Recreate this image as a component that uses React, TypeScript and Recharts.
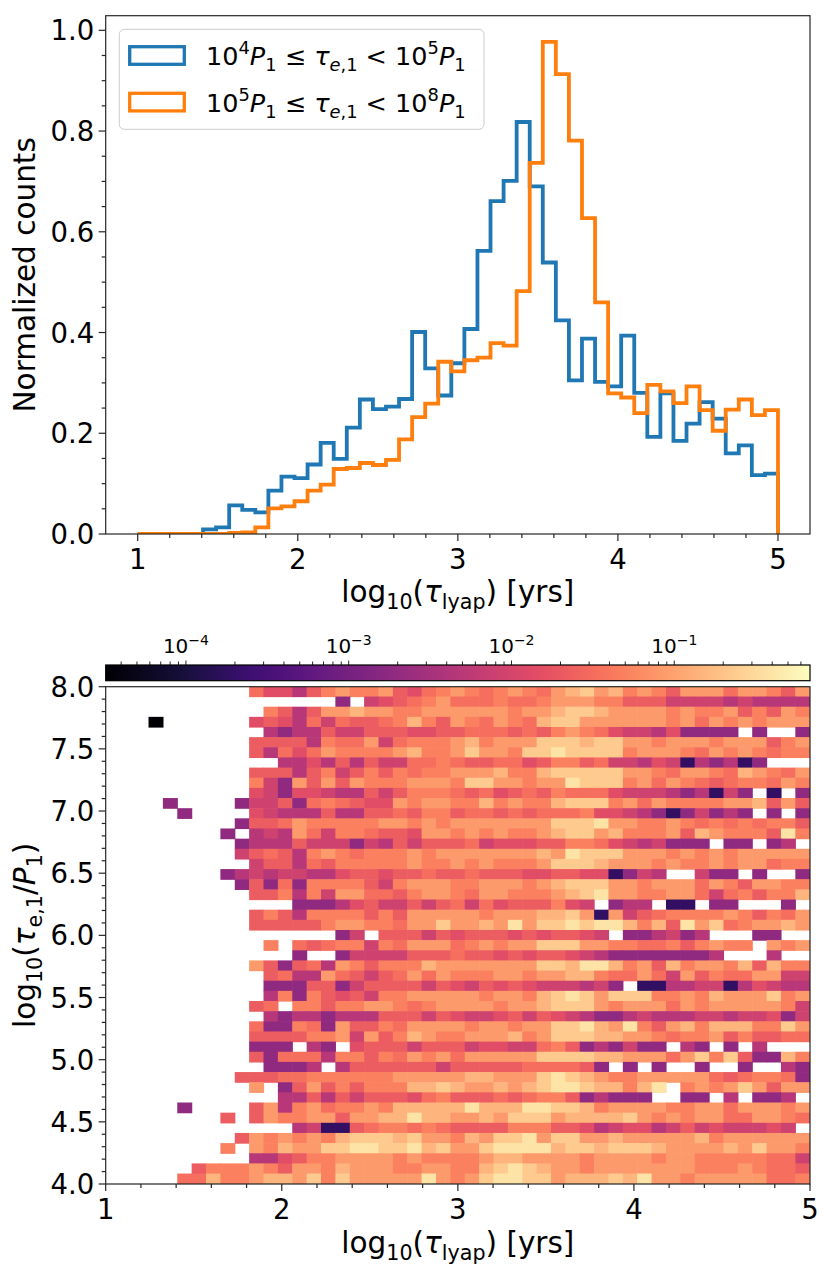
import React from 'react';
import { ComposedChart, Line, XAxis, YAxis, ScatterChart, Scatter } from 'recharts';

const FONT = 'DejaVu Sans';
const INK = '#262626';

// 49 equal bins in log10(tau_lyap) between 1 and 5 (shared by both panels)
const N_BINS = 49;
const binEdges = Array.from({ length: N_BINS + 1 }, (_, i) => 1 + (4 * i) / N_BINS);

// top panel: normalized counts per bin
const lowTauCounts = [
  0, 0, 0, 0, 0, 0.009, 0.013, 0.057, 0.048, 0.043,
  0.086, 0.114, 0.111, 0.138, 0.181, 0.149, 0.211, 0.267, 0.248, 0.253,
  0.268, 0.401, 0.329, 0.275, 0.339, 0.407, 0.562, 0.661, 0.701, 0.818,
  0.69, 0.539, 0.424, 0.305, 0.388, 0.302, 0.293, 0.394, 0.28, 0.193,
  0.279, 0.185, 0.219, 0.262, 0.229, 0.16, 0.176, 0.117, 0.12,
];
const highTauCounts = [
  0, 0, 0, 0, 0, 0, 0, 0.002, 0.003, 0.013,
  0.051, 0.055, 0.065, 0.086, 0.098, 0.129, 0.131, 0.141, 0.137, 0.147,
  0.188, 0.232, 0.259, 0.342, 0.323, 0.345, 0.35, 0.379, 0.374, 0.482,
  0.737, 0.977, 0.913, 0.781, 0.627, 0.46, 0.279, 0.271, 0.24, 0.296,
  0.283, 0.26, 0.293, 0.246, 0.205, 0.247, 0.267, 0.236, 0.246,
];

// bottom panel: one string per row of log10(tau_e,1/P1) bins, top row first,
// one char per tau_lyap bin = colour-bar level, '.' = empty
const heatRows = [
  '..........' + '755368988965789' + '8789879ab9a8986999799869',
  '................' + '2.4567897' + '778778999886664444343333',
  '...........' + '863699a9988999' + '999899abba99998988968698',
  '...0......' + '56537476678a869' + '87987abb9999998979898999',
  '...........' + '32336446665566' + '7776768987544352222.2..2',
  '..........' + '666638779478889' + 'a8999bbbabb9989998999689',
  '..........' + '63757988889a889' + 'b998bbcbbbb8999879898788',
  '............' + '3353636447787' + '667756886744354132312...',
  '..........' + '666368468687889' + '99a88abbbbb99879987a9879',
  '..........' + '842969698889998' + 'bb99899cbbb8979876788798',
  '..........' + '542554336468887' + '67567687775444323142.1.2',
  '....2....2' + '446278765598998' + '8a8988abbb8979888899a696',
  '.....2....' + '543336336676886' + '77676777855432124232.2.2',
  '.........2' + '667988888998989' + '999999bbbc99889878787886',
  '........2.' + '343974887665998' + '989889abb9a88896a98886c8',
  '.........2' + '333644424364666' + '74555668875434222.22.23.',
  '.........4' + '676389878889899' + '99999a9cbbb9998989899999',
  '..........' + '466376888889889' + '898889bbba99989889899788',
  '........23' + '434433566566766' + '76665566551243..422.2..2',
  '.........2' + '627288886489998' + '899989abbb99899979869988',
  '..........' + '668384997768998' + '7998889abc9988997478688a',
  '.............' + '222356446467' + '475666854.233.11.22...2.',
  '..........' + '686388886869999' + '98999aab9194678888986879',
  '..........' + '6666689988799b9' + '9a9c9bbcbcca8a6c9b7899a9',
  '................' + '24.666465' + '6665656654.223423...22..',
  '...........' + '8.767884879997' + '89899bbb998877868988.989',
  '.............' + '2..244446667' + '665656654322222223...3..',
  '..........' + '962673986888a99' + '99999bbacca896a8998a6a88',
  '...........' + '67339764679798' + '8899899aa877974968779944',
  '...........' + '22266246666465' + '46565444342.113344135433',
  '...........' + '38286564889999' + '98998abcb9bbb8898a999b89',
  '..........' + '67.886889987899' + '99899abbb989997989999984',
  '...........' + '32332333666465' + '445646543223433344344524',
  '..........' + '722872966879999' + '899899bbca9c869a8aaa88b9',
  '..........' + '66668894968a988' + '999a89bbbaa9987889686677',
  '..........' + '222.32.56664666' + '45544786232422.32.2.3...',
  '..........' + '627773886879897' + '99999bbbbaa99979b8b622a8',
  '...........' + '2223.366666646' + '6666777762.2.2..2..2..32',
  '.........' + '6667788888899999' + 'aa999bcba988999997678872',
  '..........' + '9.269686888aaba' + '99a9abccbaa8ac.8989b9699',
  '............' + '3363646665786' + '6676788623222..22.3.223.',
  '.....2....' + '6938978898aaaaa' + 'caaaccbba899998899799989',
  '........6.' + '698899699aacaa9' + '9a9bbb9aaaab989899779987',
  '.............' + '341167887876' + '66688866534553464544454.',
  '.........' + '6989898abbbab998' + 'a9bbc9bb99a99999a8999999',
  '........8.' + '98a99bbccbbcab9' + '9bccccabbabbba9999a9b998',
  '..........' + '335688999989888' + '89aa99998999989988888774',
  '......' + '6888986998a99988998' + '8abcba998999999988898776',
  '.....' + '77a889aa9b8b99999c98' + '9bccbb9aaabac99899999778',
];

// position of each level char along the colour bar (0 = left end, 1 = right end)
const levelPos: Record<string, number> = {
  '0': 0.0, '1': 0.18, '2': 0.41, '3': 0.5, '4': 0.56, '5': 0.61, '6': 0.655,
  '7': 0.695, '8': 0.735, '9': 0.79, a: 0.845, b: 0.89, c: 0.945,
};

const topXMajor = [1, 2, 3, 4, 5];
const topYMajor = [0, 0.2, 0.4, 0.6, 0.8, 1.0];
const heatXMajor = [1, 2, 3, 4, 5];
const heatYMajor = [4, 4.5, 5, 5.5, 6, 6.5, 7, 7.5, 8];
const cbMajor = [1e-4, 1e-3, 1e-2, 1e-1];
const cbMajorExp = ['\u22124', '\u22123', '\u22122', '\u22121'];

// colour bar limits (log10)
const CB_LMIN = -4.493;
const CB_LMAX = -0.166;
const CB_MIN = Math.pow(10, CB_LMIN);
const CB_MAX = Math.pow(10, CB_LMAX);

// layout
const W = 830;
const L = 105.7;
const R = 810;
const TOP_T = 15.7;
const TOP_B = 534;
const CB_T = 665;
const CB_B = 680.7;
const HM_T = 686.7;
const HM_B = 1184;
const LOWER_TOP = 600;
const TICK_FS = 27.5;
const LABEL_FS = 29.5;
const CB_FS = 20;

const magmaStops: [number, string][] = [
  [0.0, '#000004'], [0.1, '#140e36'], [0.125, '#1c1044'], [0.2, '#3b0f70'],
  [0.25, '#4f127b'], [0.3, '#641a80'], [0.375, '#812581'], [0.4, '#8c2981'],
  [0.5, '#b73779'], [0.6, '#de4968'], [0.625, '#e55064'], [0.7, '#f7705c'],
  [0.75, '#fb8761'], [0.8, '#fe9f6d'], [0.875, '#fec287'], [0.9, '#fecf92'],
  [1.0, '#fcfdbf'],
];

function hexToRgb(h: string) {
  return [1, 3, 5].map((i) => parseInt(h.slice(i, i + 2), 16));
}

function magma(t: number) {
  const tt = Math.max(0, Math.min(1, t));
  for (let i = 1; i < magmaStops.length; i++) {
    const [t1, c1] = magmaStops[i];
    if (tt <= t1) {
      const [t0, c0] = magmaStops[i - 1];
      const f = (tt - t0) / (t1 - t0);
      const a = hexToRgb(c0);
      const b = hexToRgb(c1);
      const m = a.map((v, k) => Math.round(v + (b[k] - v) * f));
      return `rgb(${m[0]},${m[1]},${m[2]})`;
    }
  }
  return magmaStops[magmaStops.length - 1][1];
}

const colourOf = (v: number) => magma((Math.log10(v) - CB_LMIN) / (CB_LMAX - CB_LMIN));

const binW = 4 / N_BINS;
const heatCells: { x: number; y: number; v: number }[] = [];
heatRows.forEach((rowStr, i) => {
  const row = N_BINS - 1 - i;
  rowStr.padEnd(N_BINS, '.').slice(0, N_BINS).split('').forEach((ch, col) => {
    if (ch === '.') return;
    const t = levelPos[ch];
    heatCells.push({
      x: 1 + (col + 0.5) * binW,
      y: 4 + (row + 0.5) * binW,
      v: Math.pow(10, CB_LMIN + t * (CB_LMAX - CB_LMIN)),
    });
  });
});

function stepPoints(counts: number[]) {
  const pts = counts.map((c, i) => ({ x: binEdges[i], y: c }));
  pts.push({ x: binEdges[N_BINS], y: counts[N_BINS - 1] });
  pts.push({ x: binEdges[N_BINS], y: 0 });
  return pts;
}
const lowTauSteps = stepPoints(lowTauCounts);
const highTauSteps = stepPoints(highTauCounts);

const range = (a: number, b: number, step: number) => {
  const out: number[] = [];
  for (let v = a; v <= b + 1e-9; v += step) out.push(Math.round(v * 1000) / 1000);
  return out;
};
const topXTicks = range(1, 5, 0.2);
const topYTicks = range(0, 1, 0.05);
const heatXTicks = range(1, 5, 0.2);
const heatYTicks = range(4, 8, 0.1);
const cbTicks: number[] = [];
for (let e = -5; e <= -1; e++) {
  for (let m = 1; m <= 9; m++) {
    const v = m * Math.pow(10, e);
    if (v >= CB_MIN && v <= CB_MAX) cbTicks.push(v);
  }
}

const isIn = (list: number[], v: number) => list.some((m) => Math.abs(m - v) <= 1e-6 * Math.max(Math.abs(m), 1e-9));

type Seg = { t: string; it?: boolean; lv?: number };

function MathText({ x, y, size, segs, anchor = 'start', rotate = false }: {
  x: number; y: number; size: number; segs: Seg[]; anchor?: string; rotate?: boolean;
}) {
  let cur = 0;
  const spans = segs.map((s, i) => {
    const lv = s.lv || 0;
    const shift = lv > 0 ? -0.42 * size : lv < 0 ? 0.24 * size : 0;
    const dy = shift - cur;
    cur = shift;
    return (
      <tspan key={i} dy={dy} style={{ fontSize: lv ? size * 0.7 : size }} fontStyle={s.it ? 'italic' : 'normal'}>
        {s.t}
      </tspan>
    );
  });
  return (
    <text
      x={x}
      y={y}
      textAnchor={anchor as any}
      fill="#000"
      transform={rotate ? `rotate(-90 ${x} ${y})` : undefined}
      style={{ whiteSpace: 'pre', fontFamily: FONT, fontSize: size }}
    >
      {spans}
    </text>
  );
}

const bottomTick = (majors: number[]) => (props: any) => {
  const { x, y, payload } = props;
  const major = isIn(majors, payload.value);
  return (
    <g>
      <line x1={x} y1={y} x2={x} y2={y + (major ? 7 : 4)} stroke={INK} strokeWidth={1.2} />
      {major && (
        <text x={x} y={y + 35} textAnchor="middle" fill="#000" style={{ fontFamily: FONT, fontSize: TICK_FS }}>
          {String(payload.value)}
        </text>
      )}
    </g>
  );
};

const leftTick = (majors: number[]) => (props: any) => {
  const { x, y, payload } = props;
  const major = isIn(majors, payload.value);
  return (
    <g>
      <line x1={x - (major ? 7 : 4)} y1={y} x2={x} y2={y} stroke={INK} strokeWidth={1.2} />
      {major && (
        <text x={x - 11.5} y={y + 10} textAnchor="end" fill="#000" style={{ fontFamily: FONT, fontSize: TICK_FS }}>
          {payload.value.toFixed(1)}
        </text>
      )}
    </g>
  );
};

const cbTick = (props: any) => {
  const { x, y, payload } = props;
  const idx = cbMajor.findIndex((m) => Math.abs(m - payload.value) <= 1e-6 * m);
  const major = idx >= 0;
  return (
    <g>
      <line x1={x} y1={y - (major ? 4.5 : 3.5)} x2={x} y2={y} stroke={INK} strokeWidth={1} />
      {major && (
        <MathText x={x} y={y - 12} size={CB_FS} anchor="middle" segs={[{ t: '10' }, { t: cbMajorExp[idx], lv: 1 }]} />
      )}
    </g>
  );
};

const renderCell = (p: any) => {
  const cw = (R - L) / N_BINS;
  const ch = (HM_B - HM_T) / N_BINS;
  return (
    <rect
      x={p.cx - cw / 2 - 0.3}
      y={p.cy - ch / 2 - 0.3}
      width={cw + 0.6}
      height={ch + 0.6}
      fill={colourOf(p.payload.v)}
    />
  );
};

const xLabelSegs: Seg[] = [
  { t: 'log' }, { t: '10', lv: -1 }, { t: '(' }, { t: '\u03c4', it: true }, { t: 'lyap', lv: -1 }, { t: ') [yrs]' },
];
const heatYLabelSegs: Seg[] = [
  { t: 'log' }, { t: '10', lv: -1 }, { t: '(' }, { t: '\u03c4', it: true }, { t: 'e,1', lv: -1 },
  { t: '/' }, { t: 'P', it: true }, { t: '1', lv: -1 }, { t: ')' },
];
const legendSegs = (lo: string, hi: string): Seg[] => [
  { t: '10' }, { t: lo, lv: 1 }, { t: 'P', it: true }, { t: '1', lv: -1 }, { t: ' \u2264 ' },
  { t: '\u03c4', it: true }, { t: 'e', it: true, lv: -1 }, { t: ',1', lv: -1 }, { t: ' < 10' },
  { t: hi, lv: 1 }, { t: 'P', it: true }, { t: '1', lv: -1 },
];

const legendItems = [
  { name: 'low', color: '#1f77b4', lo: '4', hi: '5' },
  { name: 'high', color: '#ff7f0e', lo: '5', hi: '8' },
];

export default function App() {
  return (
    <div style={{ position: 'absolute', left: 0, top: 0, width: W, height: 1275, background: '#fff' }}>
      <div style={{ position: 'absolute', left: 0, top: 0 }}>
        <ComposedChart width={W} height={620} margin={{ top: TOP_T, right: W - R, bottom: 0, left: 0 }}>
          <XAxis
            type="number"
            dataKey="x"
            domain={[0.8, 5.2]}
            allowDataOverflow
            ticks={topXTicks}
            interval={0}
            tick={bottomTick(topXMajor)}
            tickLine={false}
            axisLine={false}
            tickSize={0}
            tickMargin={0}
            height={620 - TOP_B}
          />
          <YAxis
            type="number"
            domain={[0, 1.029]}
            allowDataOverflow
            ticks={topYTicks}
            interval={0}
            tick={leftTick(topYMajor)}
            tickLine={false}
            axisLine={false}
            tickSize={0}
            tickMargin={0}
            width={L}
          />
          <Line
            data={lowTauSteps}
            dataKey="y"
            type="stepAfter"
            stroke="#1f77b4"
            strokeWidth={3.8}
            dot={false}
            isAnimationActive={false}
          />
          <Line
            data={highTauSteps}
            dataKey="y"
            type="stepAfter"
            stroke="#ff7f0e"
            strokeWidth={3.8}
            dot={false}
            isAnimationActive={false}
          />
        </ComposedChart>
      </div>

      <svg
        width={W}
        height={1275}
        style={{ position: 'absolute', left: 0, top: 0, pointerEvents: 'none' }}
      >
        <defs>
          <linearGradient id="magmaGrad" x1="0" y1="0" x2="1" y2="0">
            {magmaStops.map(([t, c]) => (
              <stop key={t} offset={`${t * 100}%`} stopColor={c} />
            ))}
          </linearGradient>
        </defs>
        <rect x={L} y={CB_T} width={R - L} height={CB_B - CB_T} fill="url(#magmaGrad)" />
      </svg>

      <div style={{ position: 'absolute', left: 0, top: LOWER_TOP }}>
        <ComposedChart
          width={W}
          height={CB_B - LOWER_TOP + 9.3}
          data={[{ v: CB_MIN }, { v: CB_MAX }]}
          margin={{ top: 0, right: W - R, bottom: 9.3, left: L }}
        >
          <XAxis
            type="number"
            dataKey="v"
            scale="log"
            orientation="top"
            domain={[CB_MIN, CB_MAX]}
            allowDataOverflow
            ticks={cbTicks}
            interval={0}
            tick={cbTick}
            tickLine={false}
            axisLine={false}
            tickSize={0}
            tickMargin={0}
            height={CB_T - LOWER_TOP}
          />
          <YAxis type="number" domain={[0, 1]} hide />
        </ComposedChart>
      </div>

      <div style={{ position: 'absolute', left: 0, top: LOWER_TOP }}>
        <ScatterChart
          width={W}
          height={1275 - LOWER_TOP}
          margin={{ top: HM_T - LOWER_TOP, right: W - R, bottom: 0, left: 0 }}
        >
          <XAxis
            type="number"
            dataKey="x"
            domain={[1, 5]}
            allowDataOverflow
            ticks={heatXTicks}
            interval={0}
            tick={bottomTick(heatXMajor)}
            tickLine={false}
            axisLine={false}
            tickSize={0}
            tickMargin={0}
            height={1275 - HM_B}
          />
          <YAxis
            type="number"
            dataKey="y"
            domain={[4, 8]}
            allowDataOverflow
            ticks={heatYTicks}
            interval={0}
            tick={leftTick(heatYMajor)}
            tickLine={false}
            axisLine={false}
            tickSize={0}
            tickMargin={0}
            width={L}
          />
          <Scatter data={heatCells} shape={renderCell} isAnimationActive={false} />
        </ScatterChart>
      </div>

      <svg
        width={W}
        height={1275}
        style={{ position: 'absolute', left: 0, top: 0, pointerEvents: 'none' }}
      >
        <rect x={L} y={TOP_T} width={R - L} height={TOP_B - TOP_T} fill="none" stroke={INK} strokeWidth={1.2} />
        <rect x={L} y={CB_T} width={R - L} height={CB_B - CB_T} fill="none" stroke="#000" strokeWidth={1.2} />
        <rect x={L} y={HM_T} width={R - L} height={HM_B - HM_T} fill="none" stroke={INK} strokeWidth={1.2} />

        <MathText x={(L + R) / 2} y={602} size={LABEL_FS} anchor="middle" segs={xLabelSegs} />
        <MathText x={(L + R) / 2} y={1253} size={LABEL_FS} anchor="middle" segs={xLabelSegs} />
        <MathText x={35} y={(TOP_T + TOP_B) / 2} size={LABEL_FS} anchor="middle" rotate segs={[{ t: 'Normalized counts' }]} />
        <MathText x={35} y={(HM_T + HM_B) / 2} size={LABEL_FS} anchor="middle" rotate segs={heatYLabelSegs} />

        <rect x={119.3} y={29.3} width={364.7} height={100} rx={5} fill="rgba(255,255,255,0.8)" stroke="#cccccc" strokeWidth={1} />
        {legendItems.map((it, i) => (
          <g key={it.name}>
            <rect x={129.7} y={46.7 + i * 46.6} width={54.6} height={17.6} fill="none" stroke={it.color} strokeWidth={3.3} />
            <MathText x={206} y={65 + i * 46.7} size={25.5} segs={legendSegs(it.lo, it.hi)} />
          </g>
        ))}
      </svg>
    </div>
  );
}
